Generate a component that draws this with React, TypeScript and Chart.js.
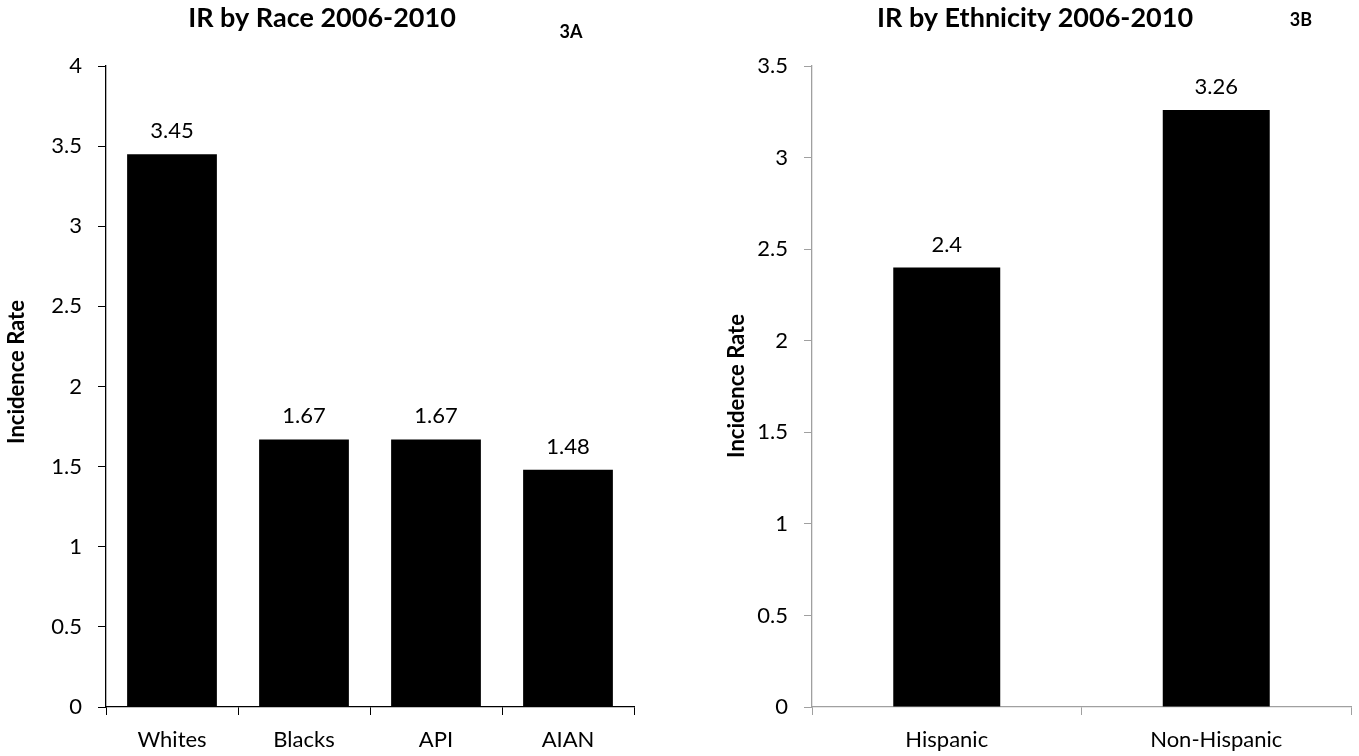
import React, { useEffect, useRef } from "react";
import { Chart, registerables } from "chart.js";

Chart.register(...registerables);

// ---- data ----
const raceCategories = ["Whites", "Blacks", "API", "AIAN"];
const raceValues = [3.45, 1.67, 1.67, 1.48];
const raceTitle = "IR by Race 2006-2010";
const raceTag = "3A";
const raceYMax = 4;

const ethnicityCategories = ["Hispanic", "Non-Hispanic"];
const ethnicityValues = [2.4, 3.26];
const ethnicityTitle = "IR by Ethnicity 2006-2010";
const ethnicityTag = "3B";
const ethnicityYMax = 3.5;

const yStep = 0.5;
const yAxisTitle = "Incidence Rate";

const FONT = "Lato, 'Open Sans', 'Liberation Sans', sans-serif";

type Decor = {
  title: string;
  titleX: number;
  titleY: number;
  tag: string;
  tagX: number;
  tagY: number;
  yTitleX: number;
  yTitleY: number;
};

const decorPlugin = {
  id: "decor",
  afterDraw(chart: any, _args: any, opts: Decor) {
    const ctx = chart.ctx;
    ctx.save();
    ctx.fillStyle = "#000";
    ctx.textAlign = "center";
    ctx.textBaseline = "middle";
    ctx.font = `bold 27px ${FONT}`;
    ctx.fillText(opts.title, opts.titleX, opts.titleY);
    ctx.font = `bold 18px ${FONT}`;
    ctx.fillText(opts.tag, opts.tagX, opts.tagY);
    ctx.translate(opts.yTitleX, opts.yTitleY);
    ctx.rotate(-Math.PI / 2);
    ctx.font = `bold 22px ${FONT}`;
    ctx.fillText(yAxisTitle, 0, 0);
    ctx.restore();
  },
};

const valueLabelPlugin = {
  id: "valueLabels",
  afterDatasetsDraw(chart: any) {
    const ctx = chart.ctx;
    ctx.save();
    ctx.fillStyle = "#000";
    ctx.textAlign = "center";
    ctx.textBaseline = "middle";
    ctx.font = `22px ${FONT}`;
    chart.data.datasets.forEach((ds: any, i: number) => {
      const meta = chart.getDatasetMeta(i);
      meta.data.forEach((bar: any, j: number) => {
        ctx.fillText(String(ds.data[j]), bar.x, bar.y - 23);
      });
    });
    ctx.restore();
  },
};

function buildConfig(
  labels: string[],
  values: number[],
  yMax: number,
  barPct: number,
  axisColor: string,
  yWidth: number,
  padRight: number,
  labelPad: number,
  decor: Decor
): any {
  return {
    type: "bar",
    data: {
      labels,
      datasets: [
        {
          data: values,
          backgroundColor: "#000000",
          borderWidth: 0,
          barPercentage: barPct,
          categoryPercentage: 1,
        },
      ],
    },
    options: {
      animation: false,
      responsive: false,
      maintainAspectRatio: false,
      layout: { padding: { left: 0, right: padRight, top: 66, bottom: 0 } },
      plugins: {
        legend: { display: false },
        title: { display: false },
        tooltip: { enabled: false },
        decor,
      },
      scales: {
        x: {
          grid: {
            display: true,
            drawOnChartArea: false,
            drawTicks: true,
            tickLength: 8,
            color: axisColor,
            offset: true,
          },
          border: { display: true, color: axisColor, width: 1.3 },
          ticks: {
            color: "#000",
            font: { family: FONT, size: 22 },
            padding: 12,
            maxRotation: 0,
            autoSkip: false,
          },
          afterFit(scale: any) {
            scale.height = 49;
          },
        },
        y: {
          min: 0,
          max: yMax,
          ticks: {
            stepSize: yStep,
            color: "#000",
            font: { family: FONT, size: 22 },
            padding: labelPad,
            callback: (v: any) => String(Number(v)),
          },
          grid: {
            display: true,
            drawOnChartArea: false,
            drawTicks: true,
            tickLength: 8,
            color: axisColor,
          },
          border: { display: true, color: axisColor, width: 1.3 },
          afterFit(scale: any) {
            scale.width = yWidth;
          },
        },
      },
    },
    plugins: [decorPlugin, valueLabelPlugin],
  };
}

export default function App() {
  const leftRef = useRef<HTMLCanvasElement>(null);
  const rightRef = useRef<HTMLCanvasElement>(null);

  useEffect(() => {
    const left = new Chart(
      leftRef.current as HTMLCanvasElement,
      buildConfig(raceCategories, raceValues, raceYMax, 0.68, "#000000", 106, 46, 16, {
        title: raceTitle,
        titleX: 322,
        titleY: 18,
        tag: raceTag,
        tagX: 571,
        tagY: 32,
        yTitleX: 17,
        yTitleY: 372,
      })
    );
    const right = new Chart(
      rightRef.current as HTMLCanvasElement,
      buildConfig(
        ethnicityCategories,
        ethnicityValues,
        ethnicityYMax,
        0.397,
        "#a0a0a0",
        132,
        8,
        16,
        {
          title: ethnicityTitle,
          titleX: 355,
          titleY: 18,
          tag: ethnicityTag,
          tagX: 621,
          tagY: 20,
          yTitleX: 57,
          yTitleY: 386,
        }
      )
    );
    return () => {
      left.destroy();
      right.destroy();
    };
  }, []);

  return (
    <div
      style={{
        position: "fixed",
        left: 0,
        top: 0,
        width: 1359,
        height: 756,
        background: "#fff",
      }}
    >
      <canvas
        ref={leftRef}
        width={680}
        height={756}
        style={{ position: "absolute", left: 0, top: 0, width: 680, height: 756 }}
      />
      <canvas
        ref={rightRef}
        width={679}
        height={756}
        style={{ position: "absolute", left: 680, top: 0, width: 679, height: 756 }}
      />
    </div>
  );
}
